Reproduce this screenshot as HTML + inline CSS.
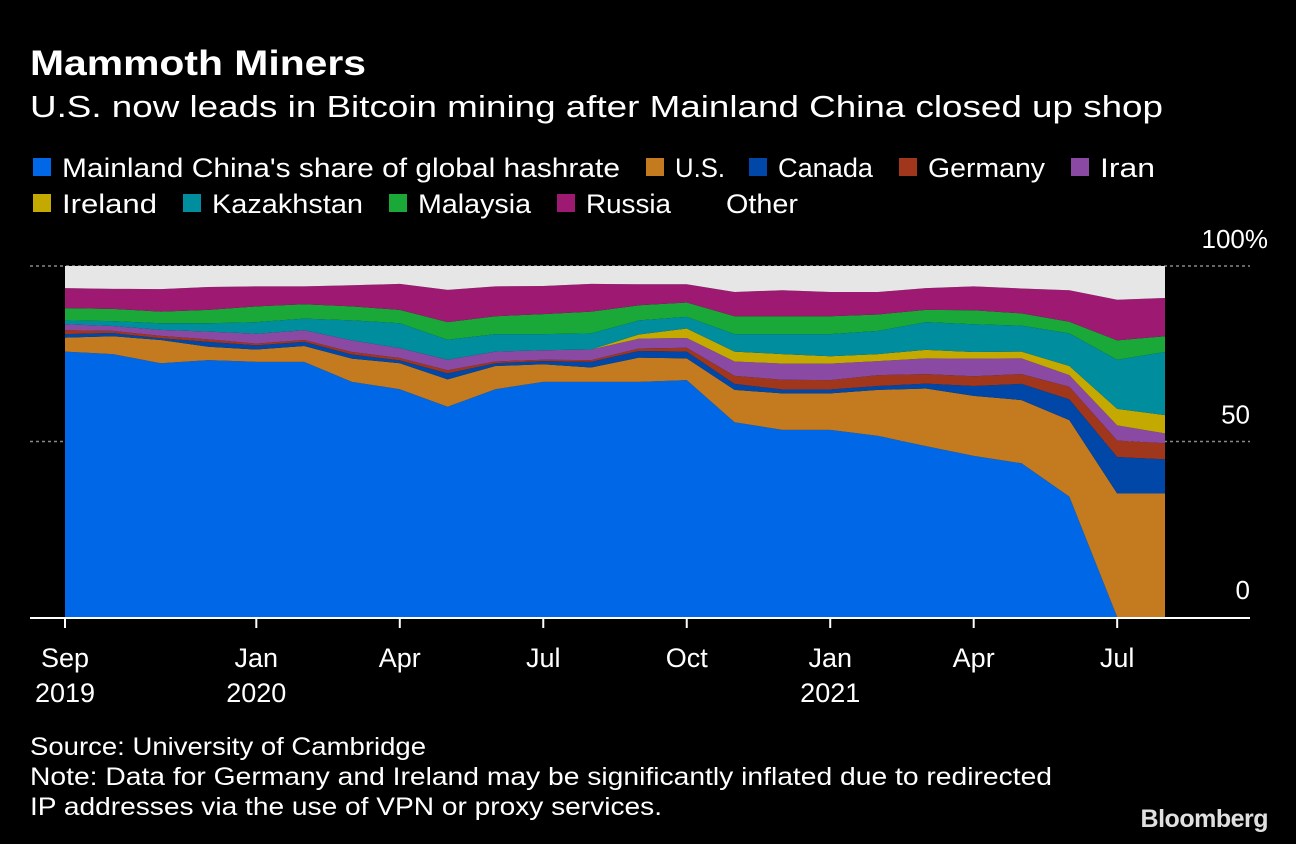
<!DOCTYPE html>
<html><head><meta charset="utf-8"><style>
body{margin:0;background:#000;width:1296px;height:844px;overflow:hidden;font-family:"Liberation Sans",sans-serif;color:#fff}
svg{position:absolute;left:0;top:0}
</style></head><body>
<svg id="c" width="1296" height="844">
<text x="30" y="75" font-size="35" font-weight="bold" fill="#fff" textLength="336" lengthAdjust="spacingAndGlyphs">Mammoth Miners</text>
<text x="30" y="117" font-size="31" fill="#fff" textLength="1133" lengthAdjust="spacingAndGlyphs">U.S. now leads in Bitcoin mining after Mainland China closed up shop</text>
<g id="legend"></g>
<g id="grid"></g>
<g id="areas"></g>
<g id="axes"></g>
<text x="30" y="755" font-size="25" fill="#fff" textLength="396" lengthAdjust="spacingAndGlyphs">Source: University of Cambridge</text>
<text x="30" y="785" font-size="25" fill="#fff" textLength="1022" lengthAdjust="spacingAndGlyphs">Note: Data for Germany and Ireland may be significantly inflated due to redirected</text>
<text x="30" y="815" font-size="25" fill="#fff" textLength="632" lengthAdjust="spacingAndGlyphs">IP addresses via the use of VPN or proxy services.</text>
<text x="1268" y="827" font-size="25" font-weight="bold" fill="#e0e0e0" text-anchor="end" letter-spacing="-0.5">Bloomberg</text>
</svg>
<script>
const months = ["Sep19","Oct19","Nov19","Dec19","Jan20","Feb20","Mar20","Apr20","May20","Jun20","Jul20","Aug20","Sep20","Oct20","Nov20","Dec20","Jan21","Feb21","Mar21","Apr21","May21","Jun21","Jul21","Aug21"];
const seriesNames = ["Mainland China's share of global hashrate","U.S.","Canada","Germany","Iran","Ireland","Kazakhstan","Malaysia","Russia","Other"];
const china = [75.6,74.9,72.3,73.2,72.7,72.7,67.0,64.9,59.9,64.9,67.0,67.0,67.0,67.5,55.5,53.3,53.3,51.6,48.7,45.9,43.8,34.3,0,0];
const us = [4.0,5.1,6.6,3.8,3.5,4.5,6.6,7.4,7.8,6.6,5.0,4.1,6.9,6.2,9.2,10.4,10.4,13.1,16.4,17.1,18.0,21.8,35.2,35.2];
const canada = [1.0,0.9,0.5,1.4,1.2,1.2,1.2,0.8,1.7,0.8,0.9,1.6,1.9,1.9,1.7,1.1,1.1,1.1,1.4,2.8,4.6,5.9,10.4,9.7];
const germany = [1.1,0.6,0.7,0.7,0.5,0.5,0.7,0.7,0.9,0.5,0.4,0.5,0.7,1.1,2.3,2.8,2.7,3.1,2.7,2.8,2.8,3.6,4.7,4.6];
const iran = [1.7,1.4,1.7,2.2,2.8,2.8,3.3,2.8,3.0,2.8,2.7,3.0,2.8,2.8,4.1,4.6,4.7,4.0,4.5,5.0,4.5,3.3,4.3,2.8];
const ireland = [0,0,0,0,0,0,0,0,0,0,0,0,1.2,2.7,2.8,2.7,2.1,2.0,2.4,1.9,1.9,2.6,4.7,5.2];
const kazakhstan = [1.1,1.4,1.9,2.4,3.3,3.3,5.7,7.1,5.7,5.0,4.6,4.6,4.0,3.3,5.0,5.7,6.3,6.6,7.9,7.9,7.4,9.3,14.0,18.0];
const malaysia = [3.5,3.5,3.3,3.8,4.5,4.1,4.0,3.8,5.0,5.1,5.7,6.2,4.3,4.1,5.1,5.1,5.1,4.7,3.5,4.0,3.5,3.3,5.5,4.5];
const russia = [5.7,5.7,6.4,6.5,5.7,5.1,6.0,7.4,9.2,8.5,8.0,7.9,6.0,5.2,6.9,7.4,6.9,6.4,6.2,6.8,7.1,9.0,11.6,10.9];
const yTicks = [0,50,100];
const yTickLabels = ["0","50","100%"];
const xTickIdx = [0,4,7,10,13,16,19,22];
const xTickLabels = [["Sep","2019"],["Jan","2020"],["Apr",""],["Jul",""],["Oct",""],["Jan","2021"],["Apr",""],["Jul",""]];

const colors = ["#0068e6","#c47a1e","#0047a8","#a0361c","#8a4aa4","#c4aa00","#008e9e","#1aa838","#9e1a72","#e6e6e6"];
const legendX = [62,675,778,928,1100,62,212,418,586,726];
const legendW = [558,50,95,117,55,95,151,113,85,72];
const NS="http://www.w3.org/2000/svg";
const X0=65,X1=1165,Y0=617,Y100=266;
const xs=i=>X0+i*(X1-X0)/(months.length-1);
const ys=v=>Y0-v*(Y0-Y100)/100;
function mk(tag,attrs,parent){const e=document.createElementNS(NS,tag);for(const k in attrs)e.setAttribute(k,attrs[k]);parent.appendChild(e);return e;}

const grid=document.getElementById('grid');
yTicks.forEach((t,i)=>{
  if(t>0){const l=mk('line',{x1:30,x2:1250,y1:ys(t),y2:ys(t),stroke:'#888','stroke-dasharray':'3,3','stroke-width':1.5},grid);
  
  }
  const tx=mk('text',{x:t===100?1268:1250,y:ys(t)-18,'font-size':26,fill:'#fff','text-anchor':'end'},grid);
  tx.textContent=yTickLabels[i];
  
  
});

const layers=[china,us,canada,germany,iran,ireland,kazakhstan,malaysia,russia];
const areas=document.getElementById('areas');
let base=months.map(()=>0);
for(let s=0;s<=layers.length;s++){
  const top=s<layers.length?base.map((b,i)=>b+layers[s][i]):months.map(()=>100);
  let d='M'+months.map((m,i)=>xs(i)+','+ys(top[i])).join('L');
  for(let i=months.length-1;i>=0;i--)d+='L'+xs(i)+','+ys(base[i]);
  d+='Z';
  const p=mk('path',{d:d,fill:colors[s]},areas);
  
  
  base=top;
}

const axes=document.getElementById('axes');
const ax=mk('line',{x1:30,x2:1250,y1:618,y2:618,stroke:'#fff','stroke-width':2},axes);


xTickIdx.forEach((idx,k)=>{
  const x=xs(idx);
  const tk=mk('line',{x1:x,x2:x,y1:618,y2:628,stroke:'#fff','stroke-width':2},axes);
  
  
  const t1=mk('text',{x:x,y:667,'font-size':27,fill:'#fff','text-anchor':'middle'},axes);
  t1.textContent=xTickLabels[k][0];
  
  
  if(xTickLabels[k][1]){const t2=mk('text',{x:x,y:702,'font-size':27,fill:'#fff','text-anchor':'middle'},axes);
  t2.textContent=xTickLabels[k][1];
  
  }
});

const lg=document.getElementById('legend');
seriesNames.forEach((name,s)=>{
  const y=s<5?168:204;
  const x=legendX[s];
  if(s<9){const sq=mk('rect',{x:x-29,y:y-10,width:18,height:18,fill:colors[s]},lg);
  
  }
  const t=mk('text',{x:x,y:y+9,'font-size':27,fill:'#fff',textLength:legendW[s],lengthAdjust:'spacingAndGlyphs'},lg);
  t.textContent=name;
  
  
});
</script>
</body></html>
